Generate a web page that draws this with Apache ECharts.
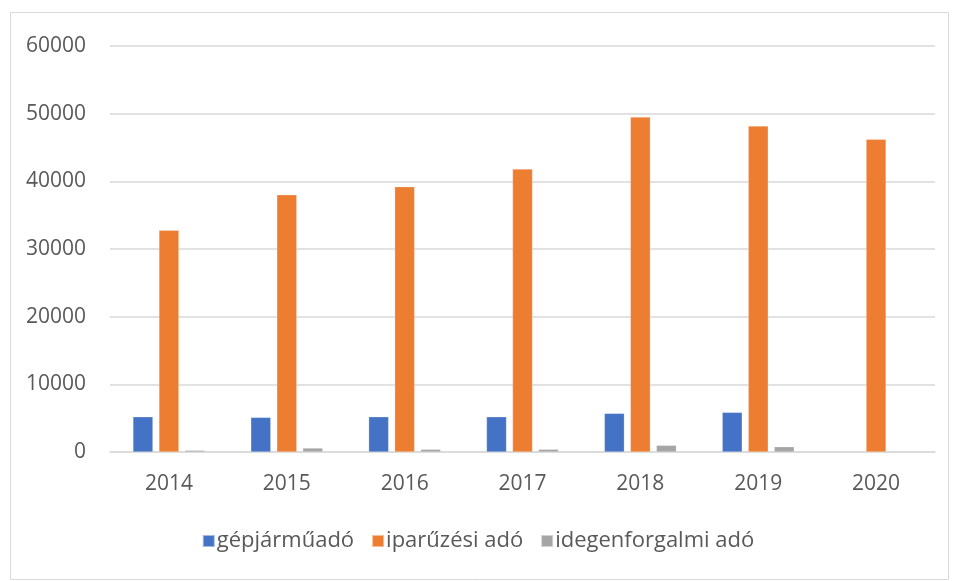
<!DOCTYPE html>
<html>
<head>
<meta charset="utf-8">
<script src="https://cdn.jsdelivr.net/npm/echarts@6/dist/echarts.min.js"></script>
<style>
html,body{margin:0;padding:0;background:#fff;}
#chart{width:956px;height:581px;}
</style>
</head>
<body>
<div id="chart"></div>
<script>
const categories = ['2014','2015','2016','2017','2018','2019','2020'];
const gepjarmuado = [5210, 5120, 5210, 5210, 5710, 5860, null];
const iparuzesiAdo = [32760, 38020, 39210, 41820, 49500, 48180, 46210];
const idegenforgalmiAdo = [250, 590, 400, 400, 990, 780, null];
const yTicks = [0, 10000, 20000, 30000, 40000, 50000, 60000];

const FONT = '"Open Sans", "Liberation Sans", sans-serif';
const TXT = '#595959';

const chart = echarts.init(document.getElementById('chart'));
const barStyle = (c) => ({ color: c, borderColor: 'rgba(255,255,255,0.5)', borderWidth: 0.5 });
chart.setOption({
  animation: false,
  textStyle: { fontFamily: FONT },
  graphic: [{
    type: 'rect', left: 8, top: 10, z: -1,
    shape: { width: 938, height: 567 },
    style: { fill: 'none', stroke: '#d9d9d9', lineWidth: 1 }
  }],
  grid: { left: 110, right: 21, top: 46, bottom: 129, containLabel: false },
  legend: {
    bottom: 24, left: 'center',
    itemWidth: 12, itemHeight: 12, itemGap: 17,
    icon: 'rect',
    textStyle: { color: TXT, fontSize: 22, fontFamily: FONT, padding: [0, 0, 0, -3] },
    data: ['gépjárműadó', 'iparűzési adó', 'idegenforgalmi adó']
  },
  xAxis: {
    type: 'category', data: categories,
    axisLine: { lineStyle: { color: '#d9d9d9', width: 1.5 } },
    axisTick: { show: false },
    axisLabel: { color: TXT, fontSize: 21, margin: 22, fontFamily: FONT }
  },
  yAxis: {
    type: 'value', min: yTicks[0], max: yTicks[yTicks.length - 1], interval: 10000,
    axisLine: { show: false }, axisTick: { show: false },
    splitLine: { lineStyle: { color: '#d9d9d9', width: 1.5 } },
    axisLabel: { color: TXT, fontSize: 21, margin: 24, fontFamily: FONT, formatter: (v) => String(v) }
  },
  series: [
    { name: 'gépjárműadó', type: 'bar', data: gepjarmuado, barWidth: 20, barGap: '30%', itemStyle: barStyle('#4472C4') },
    { name: 'iparűzési adó', type: 'bar', data: iparuzesiAdo, barWidth: 20, barGap: '30%', itemStyle: barStyle('#ED7D31') },
    { name: 'idegenforgalmi adó', type: 'bar', data: idegenforgalmiAdo, barWidth: 20, barGap: '30%', itemStyle: barStyle('#A5A5A5') }
  ]
});
</script>
</body>
</html>
